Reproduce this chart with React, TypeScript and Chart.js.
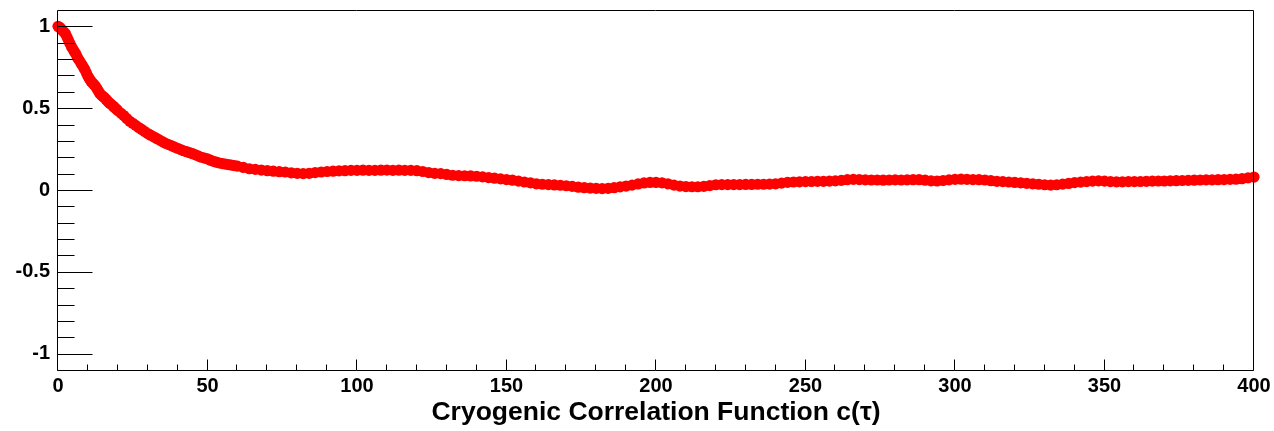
import React, { useEffect, useRef } from "react";
import { Chart, registerables } from "chart.js";

Chart.register(...registerables);

// tau values (x)
const tau = [
  0, 0.5, 1, 1.5, 2, 2.5, 3, 3.5, 4, 4.5, 5, 5.5, 6, 6.5, 7, 7.5, 8, 8.5, 9, 9.5,
  10, 10.5, 11, 11.5, 12, 12.5, 13, 13.5, 14, 14.5, 15, 15.5, 16, 16.5, 17, 17.5, 18, 18.5, 19, 19.5,
  20, 21, 22, 23, 24, 25, 26, 27, 28, 29, 30, 31, 32, 33, 34, 35, 36, 37, 38, 39,
  40, 41, 42, 43, 44, 45, 46, 47, 48, 49, 50, 51, 52, 53, 54, 55, 56, 57, 58, 59,
  60, 62, 64, 66, 68, 70, 72, 74, 76, 78,
  80, 82, 84, 86, 88, 90, 92, 94, 96, 98, 100, 102, 104, 106, 108, 110, 112, 114, 116, 118,
  120, 122, 124, 126, 128, 130, 132, 134, 136, 138, 140, 142, 144, 146, 148, 150, 152, 154, 156, 158,
  160, 162, 164, 166, 168, 170, 172, 174, 176, 178, 180, 182, 184, 186, 188, 190, 192, 194, 196, 198,
  200, 202, 204, 206, 208, 210, 212, 214, 216, 218, 220, 222, 224, 226, 228, 230, 232, 234, 236, 238,
  240, 242, 244, 246, 248, 250, 252, 254, 256, 258, 260, 262, 264, 266, 268, 270, 272, 274, 276, 278,
  280, 282, 284, 286, 288, 290, 292, 294, 296, 298, 300, 302, 304, 306, 308, 310, 312, 314, 316, 318,
  320, 322, 324, 326, 328, 330, 332, 334, 336, 338, 340, 342, 344, 346, 348, 350, 352, 354, 356, 358,
  360, 362, 364, 366, 368, 370, 372, 374, 376, 378, 380, 382, 384, 386, 388, 390, 392, 394, 396, 398,
  400,
];

// correlation values c(tau)
const correlation = [
  1.0, 0.995, 0.985, 0.975, 0.965, 0.955, 0.935, 0.915, 0.895, 0.875,
  0.86, 0.845, 0.83, 0.81, 0.795, 0.78, 0.765, 0.75, 0.735, 0.715,
  0.695, 0.68, 0.665, 0.655, 0.645, 0.635, 0.62, 0.605, 0.59, 0.58,
  0.572, 0.565, 0.555, 0.545, 0.535, 0.527, 0.52, 0.512, 0.503, 0.495,
  0.485, 0.47, 0.455, 0.437, 0.42, 0.408, 0.395, 0.382, 0.37, 0.357,
  0.345, 0.335, 0.325, 0.315, 0.305, 0.295, 0.285, 0.278, 0.27, 0.262,
  0.255, 0.247, 0.24, 0.234, 0.228, 0.222, 0.215, 0.207, 0.2, 0.195,
  0.19, 0.182, 0.175, 0.17, 0.165, 0.161, 0.158, 0.155, 0.152, 0.149,
  0.146, 0.138, 0.13, 0.126, 0.122, 0.118, 0.115, 0.112, 0.11, 0.105,
  0.102, 0.1, 0.102, 0.106, 0.11, 0.113, 0.115, 0.117, 0.118, 0.12,
  0.12, 0.121, 0.12, 0.12, 0.121, 0.122, 0.12, 0.121, 0.12, 0.12,
  0.118, 0.113, 0.106, 0.102, 0.1, 0.095, 0.09, 0.088, 0.087, 0.086,
  0.084, 0.08, 0.076, 0.072, 0.068, 0.064, 0.06, 0.054, 0.049, 0.044,
  0.038, 0.035, 0.033, 0.031, 0.029, 0.026, 0.022, 0.017, 0.014, 0.012,
  0.01, 0.009, 0.01, 0.014, 0.019, 0.024, 0.03, 0.037, 0.043, 0.046,
  0.046, 0.044, 0.038, 0.03, 0.024, 0.021, 0.02, 0.02, 0.022, 0.027,
  0.032, 0.033, 0.033, 0.033, 0.033, 0.034, 0.034, 0.035, 0.035, 0.036,
  0.038, 0.042, 0.047, 0.049, 0.05, 0.051, 0.052, 0.053, 0.053, 0.054,
  0.056, 0.059, 0.063, 0.065, 0.064, 0.062, 0.061, 0.061, 0.06, 0.061,
  0.062, 0.061, 0.062, 0.063, 0.063, 0.06, 0.056, 0.055, 0.058, 0.062,
  0.065, 0.066, 0.065, 0.064, 0.063, 0.061, 0.057, 0.053, 0.051, 0.049,
  0.046, 0.044, 0.041, 0.038, 0.035, 0.032, 0.03, 0.032, 0.036, 0.04,
  0.045, 0.048, 0.051, 0.054, 0.056, 0.054, 0.051, 0.05, 0.05, 0.051,
  0.051, 0.052, 0.053, 0.054, 0.055, 0.055, 0.056, 0.057, 0.058, 0.059,
  0.06, 0.061, 0.062, 0.062, 0.063, 0.064, 0.065, 0.066, 0.069, 0.074,
  0.079,
];

const xMajorTicks = [0, 50, 100, 150, 200, 250, 300, 350, 400];
const xMinorTicks = [
  10, 20, 30, 40, 60, 70, 80, 90, 110, 120, 130, 140, 160, 170, 180, 190,
  210, 220, 230, 240, 260, 270, 280, 290, 310, 320, 330, 340, 360, 370, 380, 390,
];
const yMajorTicks = [-1, -0.5, 0, 0.5, 1];
const yMinorTicks = [
  -0.9, -0.8, -0.7, -0.6, -0.4, -0.3, -0.2, -0.1, 0.1, 0.2, 0.3, 0.4, 0.6, 0.7, 0.8, 0.9,
];

const xTitle = "Cryogenic Correlation Function c(\u03c4)";

const framePlugin = {
  id: "rootFrame",
  afterDraw(chart: any) {
    const { ctx, chartArea, scales } = chart;
    const { left, right, top, bottom } = chartArea;
    const xs = scales.x;
    const ys = scales.y;
    ctx.save();
    ctx.strokeStyle = "#000";
    ctx.lineWidth = 1;
    const L = Math.round(left) - 0.5;
    const R = Math.round(right) - 0.5;
    const T = Math.round(top) + 0.5;
    const B = Math.round(bottom) + 0.5;
    ctx.beginPath();
    ctx.rect(L, T, R - L, B - T);
    ctx.stroke();
    ctx.beginPath();
    for (const v of yMajorTicks) {
      const p = Math.round(ys.getPixelForValue(v)) + 0.5;
      ctx.moveTo(L, p);
      ctx.lineTo(L + 35, p);
    }
    for (const v of yMinorTicks) {
      const p = Math.round(ys.getPixelForValue(v)) + 0.5;
      ctx.moveTo(L, p);
      ctx.lineTo(L + 17, p);
    }
    for (const v of xMajorTicks) {
      const p = Math.round(xs.getPixelForValue(v)) - 0.5;
      ctx.moveTo(p, B);
      ctx.lineTo(p, B - 11);
    }
    for (const v of xMinorTicks) {
      const p = Math.round(xs.getPixelForValue(v)) - 0.5;
      ctx.moveTo(p, B);
      ctx.lineTo(p, B - 6);
    }
    ctx.stroke();
    ctx.restore();
  },
};

export default function App() {
  const ref = useRef<HTMLCanvasElement | null>(null);
  useEffect(() => {
    if (!ref.current) return;
    const points = tau.map((t, i) => ({ x: t, y: correlation[i] }));
    const chart = new Chart(ref.current, {
      type: "scatter",
      data: {
        datasets: [
          {
            data: points,
            backgroundColor: "#ff0000",
            borderWidth: 0,
            pointRadius: 5.6,
            pointStyle: "circle",
            showLine: false,
            clip: false as any,
          },
        ],
      },
      options: {
        responsive: false,
        animation: false,
        events: [],
        layout: { padding: { top: 10, right: 20, left: 0, bottom: 0 } },
        plugins: {
          legend: { display: false },
          tooltip: { enabled: false },
          title: { display: false },
        },
        scales: {
          x: {
            type: "linear",
            min: 0,
            max: 400,
            grid: { display: false, drawTicks: false },
            border: { display: false },
            ticks: {
              stepSize: 50,
              autoSkip: false,
              maxRotation: 0,
              includeBounds: false,
              padding: 4,
              color: "#000",
              font: { family: "'Liberation Sans', Arial, sans-serif", size: 20, weight: "bold" },
              callback: (v: any) => String(v),
            },
            title: {
              display: true,
              text: xTitle,
              color: "#000",
              padding: { top: 0, bottom: 2 },
              font: { family: "'Liberation Sans', Arial, sans-serif", size: 26.5, weight: "bold" },
            },
            afterFit: (axis: any) => {
              axis.height = 61;
              axis.paddingLeft = 0;
              axis.paddingRight = 0;
            },
          },
          y: {
            type: "linear",
            min: -1.1,
            max: 1.1,
            grid: { display: false, drawTicks: false },
            border: { display: false },
            ticks: {
              stepSize: 0.5,
              includeBounds: false,
              padding: 8,
              color: "#000",
              font: { family: "'Liberation Sans', Arial, sans-serif", size: 20, weight: "bold" },
              callback: (v: any) => String(Math.round(Number(v) * 10) / 10),
            },
            afterFit: (axis: any) => {
              axis.width = 58;
              axis.paddingTop = 0;
              axis.paddingBottom = 0;
            },
          },
        },
      },
      plugins: [framePlugin],
    });
    return () => chart.destroy();
  }, []);
  return (
    <div style={{ position: "fixed", left: 0, top: 0, width: 1274, height: 431, background: "#fff" }}>
      <canvas ref={ref} width={1274} height={431} style={{ display: "block" }} />
    </div>
  );
}
